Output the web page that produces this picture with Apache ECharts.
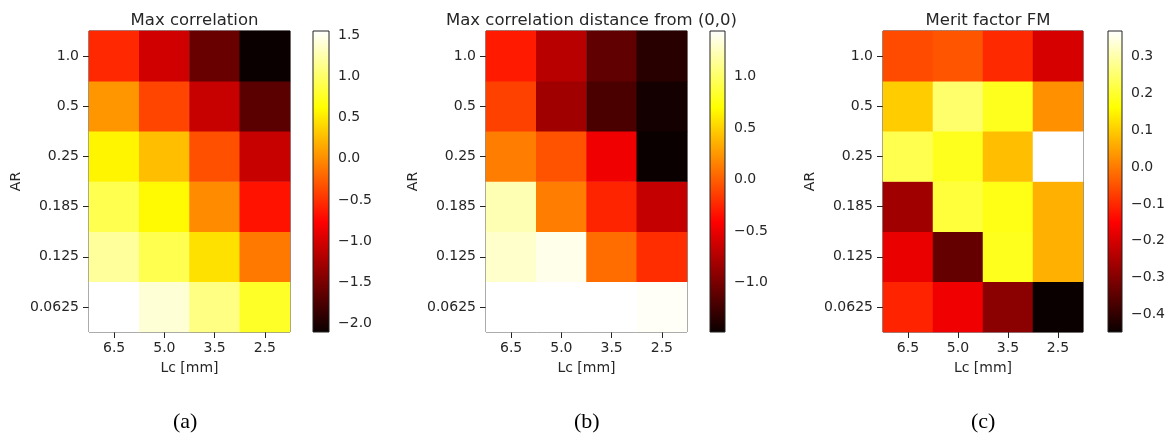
<!DOCTYPE html>
<html>
<head>
<meta charset="utf-8">
<script src="https://cdn.jsdelivr.net/npm/echarts@6/dist/echarts.min.js"></script>
<style>html,body{margin:0;padding:0;background:#fff}#c{width:1171px;height:441px}</style>
</head>
<body>
<div id="c"></div>
<script>
// ---- data (rows from AR=0.0625 at bottom up to AR=1.0 at top) ----
const lcLabels = ['6.5', '5.0', '3.5', '2.5'];
const arLabels = ['0.0625', '0.125', '0.185', '0.25', '0.5', '1.0'];

const maxCorr = [
  [1.55, 1.40, 1.10, 0.77],
  [1.19, 0.91, 0.46, -0.11],
  [0.91, 0.60, -0.01, -0.66],
  [0.57, 0.27, -0.33, -1.07],
  [0.05, -0.39, -1.07, -1.67],
  [-0.55, -1.02, -1.59, -2.10]
];
const distCorr = [
  [1.44, 1.44, 1.44, 1.42],
  [1.29, 1.38, 0.06, -0.22],
  [1.22, 0.13, -0.26, -0.67],
  [0.13, -0.05, -0.48, -1.48],
  [-0.13, -0.83, -1.20, -1.44],
  [-0.30, -0.72, -1.11, -1.35]
];
const merit = [
  [-0.107, -0.168, -0.290, -0.448],
  [-0.174, -0.339, 0.187, 0.066],
  [-0.265, 0.211, 0.180, 0.066],
  [0.227, 0.187, 0.083, 0.370],
  [0.100, 0.250, 0.187, 0.028],
  [-0.058, -0.046, -0.100, -0.199]
];
const titles = ['Max correlation', 'Max correlation distance from (0,0)', 'Merit factor FM'];
const panelTags = ['(a)', '(b)', '(c)'];
const ticksA = [-2.0, -1.5, -1.0, -0.5, 0.0, 0.5, 1.0, 1.5];
const ticksB = [-1.0, -0.5, 0.0, 0.5, 1.0];
const ticksC = [-0.4, -0.3, -0.2, -0.1, 0.0, 0.1, 0.2, 0.3];

// ---- matplotlib 'hot' colormap ----
function hot(t) {
  const r = Math.min(1, 0.0416 + (1 - 0.0416) * t / 0.365079);
  const g = Math.max(0, Math.min(1, (t - 0.365079) / (0.746032 - 0.365079)));
  const b = Math.max(0, Math.min(1, (t - 0.746032) / (1 - 0.746032)));
  return 'rgb(' + Math.round(r * 255) + ',' + Math.round(g * 255) + ',' + Math.round(b * 255) + ')';
}
const hotColors = [];
for (let i = 0; i <= 60; i++) hotColors.push(hot(i / 60));
const hotStops = [
  { offset: 0, color: hot(0) },
  { offset: 0.365079, color: hot(0.365079) },
  { offset: 0.746032, color: hot(0.746032) },
  { offset: 1, color: hot(1) }
];

const FONT = 'DejaVu Sans';
const TXT = '#262626';
const FS = 14;
const panels = [
  { data: maxCorr, ticks: ticksA, gx: 89, gw: 201, cx: 313, cw: 16, tagX: 187 },
  { data: distCorr, ticks: ticksB, gx: 486, gw: 201, cx: 710, cw: 15, tagX: 588 },
  { data: merit, ticks: ticksC, gx: 883, gw: 200, cx: 1108, cw: 14, tagX: 985 }
];
const TOP = 31, H = 301;

const option = { animation: false, backgroundColor: '#fff',
  title: [], grid: [], xAxis: [], yAxis: [], series: [], visualMap: [], graphic: [] };

const fmt = v => (Math.abs(v) < 1e-9 ? 0 : v).toFixed(1).replace('-', '\u2212');

panels.forEach((p, k) => {
  const flat = p.data.flat();
  const vmin = Math.min(...flat), vmax = Math.max(...flat);
  const gi = option.grid.length;
  // heatmap grid
  option.grid.push({ left: p.gx, top: TOP, width: p.gw, height: H, show: true,
    borderColor: '#222', borderWidth: 1, backgroundColor: 'transparent' });
  option.xAxis.push({ type: 'category', gridIndex: gi, data: lcLabels,
    axisLine: { show: false }, axisTick: { show: true, alignWithLabel: true, length: 6, lineStyle: { color: '#222' } },
    axisLabel: { color: TXT, fontFamily: FONT, fontSize: FS, margin: 9 },
    name: 'Lc [mm]', nameLocation: 'middle', nameGap: 29,
    nameTextStyle: { color: TXT, fontFamily: FONT, fontSize: FS }, splitLine: { show: false } });
  option.yAxis.push({ type: 'category', gridIndex: gi, data: arLabels,
    axisLine: { show: false }, axisTick: { show: true, alignWithLabel: true, length: 6, lineStyle: { color: '#222' } },
    axisLabel: { color: TXT, fontFamily: FONT, fontSize: FS, margin: 10 },
    name: 'AR', nameLocation: 'middle', nameGap: 66,
    nameTextStyle: { color: TXT, fontFamily: FONT, fontSize: FS }, splitLine: { show: false } });
  const hm = [];
  p.data.forEach((row, yi) => row.forEach((v, xi) => hm.push([xi, yi, v])));
  const si = option.series.length;
  option.series.push({ type: 'heatmap', xAxisIndex: gi, yAxisIndex: gi, data: hm,
    itemStyle: { borderWidth: 0 }, emphasis: { disabled: true }, z: 1 });
  option.visualMap.push({ type: 'continuous', show: false, seriesIndex: si, dimension: 2,
    min: vmin, max: vmax, inRange: { color: hotColors } });
  // colorbar grid
  const ci = option.grid.length;
  option.grid.push({ left: p.cx, top: TOP, width: p.cw, height: H, show: true,
    borderColor: '#222', borderWidth: 1, backgroundColor: 'transparent', z: 3 });
  option.xAxis.push({ type: 'value', gridIndex: ci, min: 0, max: 1, show: false });
  option.yAxis.push({ type: 'value', gridIndex: ci, min: vmin, max: vmax, position: 'right',
    axisLine: { show: false }, splitLine: { show: false },
    axisTick: { show: true, length: 6, customValues: p.ticks, lineStyle: { color: '#222' } },
    axisLabel: { color: TXT, fontFamily: FONT, fontSize: FS, margin: 9, customValues: p.ticks, formatter: fmt } });
  option.series.push({ type: 'custom', xAxisIndex: ci, yAxisIndex: ci, data: [[0, 1, vmin, vmax]], silent: true,
    renderItem: function (params, api) {
      const a = api.coord([api.value(0), api.value(3)]);
      const b = api.coord([api.value(1), api.value(2)]);
      return { type: 'rect', shape: { x: a[0], y: a[1], width: b[0] - a[0], height: b[1] - a[1] },
        style: { fill: new echarts.graphic.LinearGradient(0, 1, 0, 0, hotStops) } };
    } });
  // title
  option.title.push({ text: titles[k], left: p.gx + p.gw / 2, top: 7, textAlign: 'center',
    textStyle: { color: TXT, fontFamily: FONT, fontSize: 16.5, fontWeight: 'normal' } });
  // panel tag
  option.graphic.push({ type: 'text', left: p.tagX - 14, top: 411,
    style: { text: panelTags[k], fill: '#000', font: '22px "Liberation Serif"' } });
});

const chart = echarts.init(document.getElementById('c'), null, { renderer: 'canvas' });
chart.setOption(option);
</script>
</body>
</html>
